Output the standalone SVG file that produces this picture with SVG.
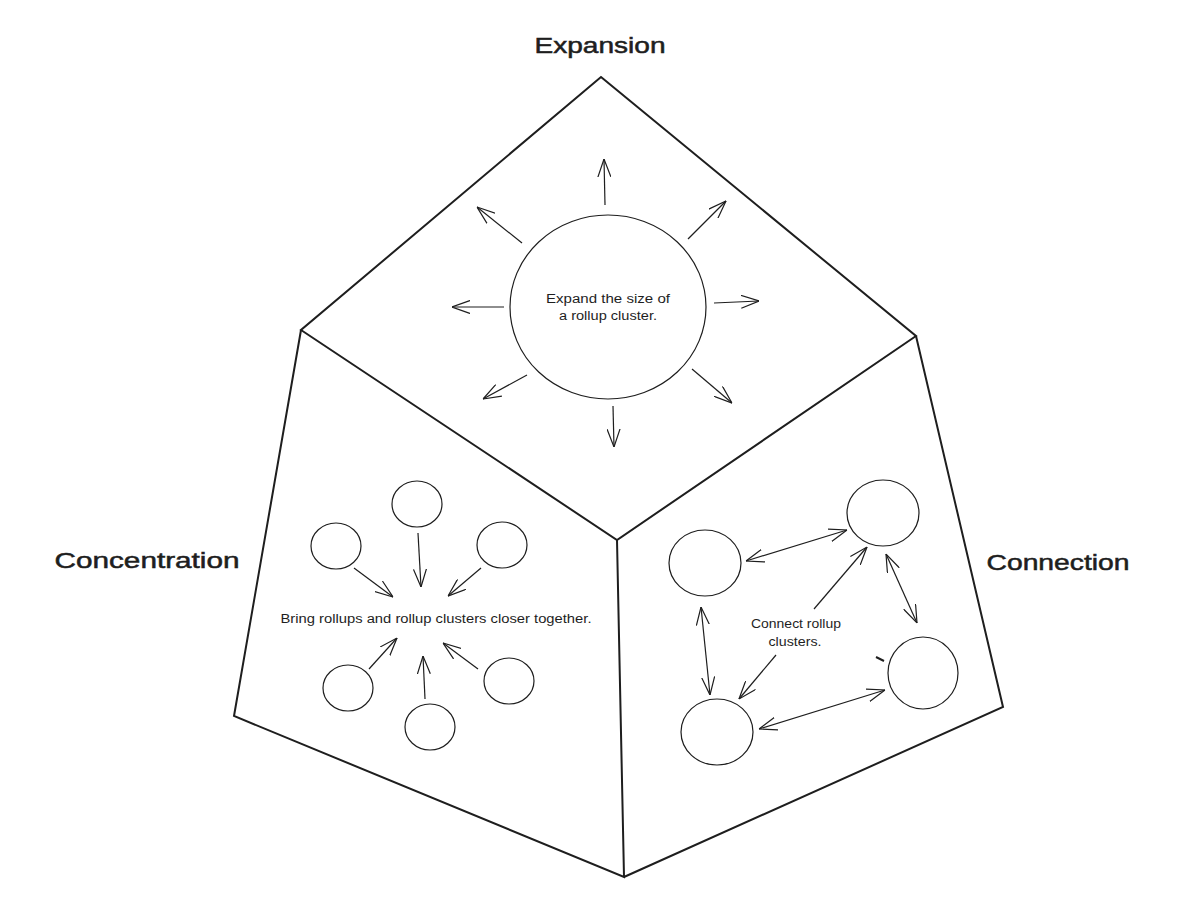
<svg xmlns="http://www.w3.org/2000/svg" width="1200" height="918" viewBox="0 0 1200 918">
<style>
.panel{fill:none;stroke:#1e1e1e;stroke-width:2;stroke-linejoin:miter}
.circ{fill:none;stroke:#1e1e1e;stroke-width:1.2}
.arr{fill:none;stroke:#1e1e1e;stroke-width:1.2;marker-end:url(#ah)}
.dbl{fill:none;stroke:#1e1e1e;stroke-width:1.2;marker-end:url(#ah);marker-start:url(#ahs)}
.title{font-family:"Liberation Sans",Arial,sans-serif;font-size:22px;fill:#1e1e1e;stroke:#1e1e1e;stroke-width:0.5;text-anchor:middle}
.small{font-family:"Liberation Sans",Arial,sans-serif;font-size:12.5px;fill:#1e1e1e;text-anchor:middle}
</style>
<defs>
<marker id="ah" viewBox="0 0 18 14" refX="18" refY="7" markerWidth="18" markerHeight="14" markerUnits="userSpaceOnUse" orient="auto">
<path d="M0,0.5 L18,7 L0,13.5" fill="none" stroke="#1e1e1e" stroke-width="1.2"/>
</marker>
<marker id="ahs" viewBox="0 0 18 14" refX="18" refY="7" markerWidth="18" markerHeight="14" markerUnits="userSpaceOnUse" orient="auto-start-reverse">
<path d="M0,0.5 L18,7 L0,13.5" fill="none" stroke="#1e1e1e" stroke-width="1.2"/>
</marker>
</defs>
<rect width="1200" height="918" fill="#ffffff"/>
<g id="panels">
<path class="panel" d="M601,77 L916,336 L617,540 L301,330 Z"/>
<path class="panel" d="M301,330 L234,716 L624,877 L617,540"/>
<path class="panel" d="M916,336 L1003,707 L624,877"/>
</g>
<g id="labels">
<text class="title" x="600" y="53" textLength="131" lengthAdjust="spacingAndGlyphs">Expansion</text>
<text class="title" x="147" y="568" textLength="185" lengthAdjust="spacingAndGlyphs">Concentration</text>
<text class="title" x="1058" y="570" textLength="143" lengthAdjust="spacingAndGlyphs">Connection</text>
</g>
<g id="expansion-node">
<ellipse class="circ" cx="608" cy="307" rx="98" ry="92"/>
<text class="small" x="608" y="303" textLength="124" lengthAdjust="spacingAndGlyphs">Expand the size of</text>
<text class="small" x="608" y="320" textLength="98" lengthAdjust="spacingAndGlyphs">a rollup cluster.</text>
</g>
<g id="concentration-nodes">
<ellipse id="c-top" class="circ" cx="417" cy="504" rx="25" ry="23"/>
<ellipse id="c-ul" class="circ" cx="336" cy="546" rx="25" ry="23"/>
<ellipse id="c-ur" class="circ" cx="502" cy="545" rx="25" ry="23"/>
<ellipse id="c-ll" class="circ" cx="348" cy="688" rx="25" ry="23"/>
<ellipse id="c-lr" class="circ" cx="509" cy="681" rx="25" ry="23"/>
<ellipse id="c-bot" class="circ" cx="430" cy="727" rx="25" ry="23"/>
<text class="small" x="436" y="623" textLength="311" lengthAdjust="spacingAndGlyphs">Bring rollups and rollup clusters closer together.</text>
</g>
<g id="connection-nodes">
<ellipse id="n-tr" class="circ" cx="883" cy="513" rx="36" ry="33"/>
<ellipse id="n-l" class="circ" cx="705" cy="563" rx="36" ry="33"/>
<ellipse id="n-r" class="circ" cx="923" cy="673" rx="35" ry="36"/>
<ellipse id="n-b" class="circ" cx="717" cy="732" rx="36" ry="33"/>
<text class="small" x="796" y="628" textLength="90" lengthAdjust="spacingAndGlyphs">Connect rollup</text>
<text class="small" x="795" y="646" textLength="53" lengthAdjust="spacingAndGlyphs">clusters.</text>
<path d="M876,657 L884,661" stroke="#1e1e1e" stroke-width="2" fill="none"/>
</g>
<g id="connectors">
<path class="arr" d="M605,205 L604,159"/>
<path class="arr" d="M688,239 L726,201"/>
<path class="arr" d="M714,303 L759,301"/>
<path class="arr" d="M692,369 L732,403"/>
<path class="arr" d="M613,406 L614,447"/>
<path class="arr" d="M527,375 L483,399"/>
<path class="arr" d="M504,307 L452,307"/>
<path class="arr" d="M522,243 L477,207"/>
<path class="arr" d="M418,533 L421,587"/>
<path class="arr" d="M354,568 L393,597"/>
<path class="arr" d="M481,568 L448,596"/>
<path class="arr" d="M369,669 L397,638"/>
<path class="arr" d="M425,699 L423,656"/>
<path class="arr" d="M478,669 L443,643"/>
<path class="dbl" d="M746,561 L847,530"/>
<path class="dbl" d="M701,607 L710,695"/>
<path class="dbl" d="M886,554 L917,623"/>
<path class="dbl" d="M759,729 L885,690"/>
<path class="arr" d="M814,609 L867,547"/>
<path class="arr" d="M776,655 L739,699"/>
</g>
</svg>
